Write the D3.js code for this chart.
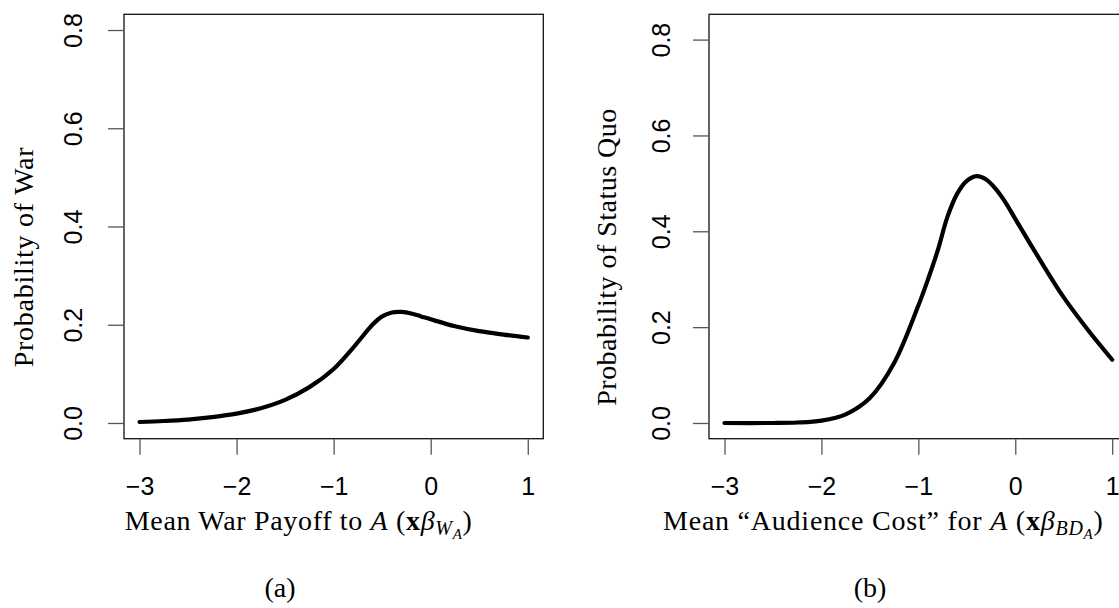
<!DOCTYPE html>
<html><head><meta charset="utf-8">
<script src="https://cdn.jsdelivr.net/npm/d3@7"></script>
<style>body{margin:0;background:#fff}svg{display:block}</style>
</head><body>
<svg id="c" width="1119" height="608"></svg>
<script>
// ---- data ----
const xTickValues = [-3, -2, -1, 0, 1];
const xTickLabels = ["\u22123", "\u22122", "\u22121", "0", "1"];
const yTickValues = [0, 0.2, 0.4, 0.6, 0.8];
const yTickLabels = ["0.0", "0.2", "0.4", "0.6", "0.8"];

const warX = [-3, -2.75, -2.5, -2.25, -2, -1.75, -1.5, -1.25, -1, -0.8, -0.6, -0.5, -0.4, -0.3, -0.2, -0.1, 0, 0.25, 0.5, 0.75, 1];
const warY = [0.002, 0.004, 0.007, 0.012, 0.019, 0.03, 0.047, 0.073, 0.11, 0.153, 0.2, 0.217, 0.225, 0.226, 0.223, 0.217, 0.211, 0.197, 0.187, 0.18, 0.174];

const sqX = [-3, -2.5, -2.25, -2, -1.75, -1.5, -1.25, -1, -0.9, -0.8, -0.7, -0.6, -0.5, -0.4, -0.3, -0.2, -0.1, 0, 0.25, 0.5, 0.75, 1];
const sqY = [0, 0, 0.001, 0.005, 0.018, 0.052, 0.125, 0.245, 0.3, 0.36, 0.43, 0.478, 0.505, 0.515, 0.508, 0.488, 0.46, 0.426, 0.342, 0.262, 0.194, 0.132];

const panels = [
  {xs: warX, ys: warY, yMax: 0.8, left: 124, right: 543.3, ytl: 82, ylab: 33,
   ylabel: "Probability of War", ylabW: 220, caption: "(a)", capX: 280, xlabW: 347, xlab: "a"},
  {xs: sqX, ys: sqY, yMax: 0.82, left: 709, right: 1127.7, ytl: 670, ylab: 616,
   ylabel: "Probability of Status Quo", ylabW: 297, caption: "(b)", capX: 870, xlabW: 440, xlab: "b"}
];

const svg = d3.select("#c");
const plotTop = 14.3, plotBottom = 438.7;
const serif = "'Liberation Serif', 'Times New Roman', serif";
const sans = "'Liberation Sans', Arial, Helvetica, sans-serif";

function fitSpacing(sel, target) {
  const node = sel.node();
  const len = node.getComputedTextLength();
  const n = node.textContent.length;
  if (n > 1) sel.attr("letter-spacing", ((target - len) / (n - 1)).toFixed(2));
}

panels.forEach(p => {
  const xPad = 0.04 * 4, yPad = 0.04 * p.yMax;
  const x = d3.scaleLinear().domain([-3 - xPad, 1 + xPad]).range([p.left, p.right]);
  const y = d3.scaleLinear().domain([-yPad, p.yMax + yPad]).range([plotBottom, plotTop]);
  const g = svg.append("g");

  // frame
  g.append("rect").attr("x", p.left).attr("y", plotTop)
    .attr("width", p.right - p.left).attr("height", plotBottom - plotTop)
    .attr("fill", "none").attr("stroke", "#111").attr("stroke-width", 1.3);

  // x axis
  const xa = d3.axisBottom(x).tickValues(xTickValues).tickSize(16)
    .tickFormat((d, i) => xTickLabels[i]);
  const gx = g.append("g").attr("transform", `translate(0,${plotBottom})`).call(xa);
  gx.select(".domain").remove();
  gx.selectAll(".tick line").attr("stroke", "#555").attr("stroke-width", 1.3);
  gx.selectAll(".tick text").attr("y", 0).attr("dy", 0)
    .attr("transform", `translate(0,${495 - plotBottom})`)
    .style("font-family", sans).style("font-size", "25px").attr("fill", "#000");

  // y axis
  const ya = d3.axisLeft(y).tickValues(yTickValues).tickSize(16)
    .tickFormat((d, i) => yTickLabels[i]);
  const gy = g.append("g").attr("transform", `translate(${p.left},0)`).call(ya);
  gy.select(".domain").remove();
  gy.selectAll(".tick line").attr("stroke", "#555").attr("stroke-width", 1.3);
  gy.selectAll(".tick text").attr("x", 0).attr("dy", 0)
    .attr("text-anchor", "middle")
    .attr("transform", `translate(${p.ytl - p.left},0) rotate(-90)`)
    .style("font-family", sans).style("font-size", "25px").attr("fill", "#000");

  // curve
  const data = p.xs.map((v, i) => [v, p.ys[i]]);
  g.append("path").datum(data)
    .attr("d", d3.line().x(d => x(d[0])).y(d => y(d[1])).curve(d3.curveCatmullRom.alpha(0.5)))
    .attr("fill", "none").attr("stroke", "#000").attr("stroke-width", 4.2)
    .attr("stroke-linecap", "round").attr("stroke-linejoin", "round");

  // y label
  const yl = g.append("text")
    .attr("transform", `translate(${p.ylab},257) rotate(-90)`)
    .attr("text-anchor", "middle")
    .style("font-family", serif).style("font-size", "28px").text(p.ylabel);
  fitSpacing(yl, p.ylabW);

  // x label
  const cx = (x(-3) + x(1)) / 2 - 35;
  const xl = g.append("text").attr("x", cx).attr("y", 530).attr("text-anchor", "middle")
    .style("font-family", serif).style("font-size", "28px");
  if (p.xlab === "a") {
    xl.append("tspan").text("Mean War Payoff to ");
    xl.append("tspan").attr("font-style", "italic").text("A");
    xl.append("tspan").text(" (");
    xl.append("tspan").attr("font-weight", "bold").text("x");
    xl.append("tspan").attr("font-style", "italic").text("\u03B2");
    xl.append("tspan").attr("font-style", "italic").attr("font-size", "20px").attr("dy", 5).text("W");
    xl.append("tspan").attr("font-style", "italic").attr("font-size", "15px").attr("dy", 4).text("A");
    xl.append("tspan").attr("dy", -9).text(")");
  } else {
    xl.append("tspan").text("Mean \u201CAudience Cost\u201D for ");
    xl.append("tspan").attr("font-style", "italic").text("A");
    xl.append("tspan").text(" (");
    xl.append("tspan").attr("font-weight", "bold").text("x");
    xl.append("tspan").attr("font-style", "italic").text("\u03B2");
    xl.append("tspan").attr("font-style", "italic").attr("font-size", "20px").attr("dy", 5).text("BD");
    xl.append("tspan").attr("font-style", "italic").attr("font-size", "15px").attr("dy", 4).text("A");
    xl.append("tspan").attr("dy", -9).text(")");
  }
  fitSpacing(xl, p.xlabW);

  // caption
  g.append("text").attr("x", p.capX).attr("y", 597).attr("text-anchor", "middle")
    .style("font-family", serif).style("font-size", "28px").text(p.caption);
});
</script>
</body></html>
